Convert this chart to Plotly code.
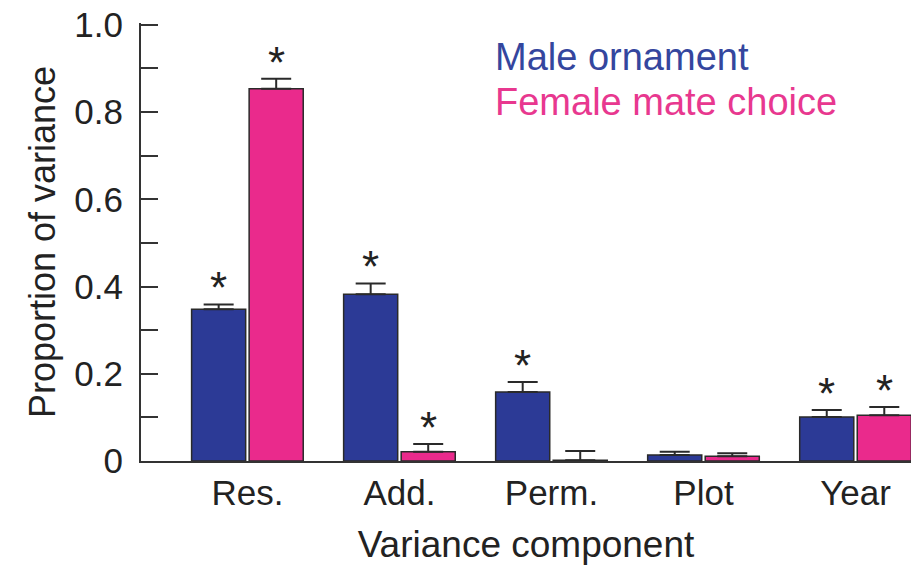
import plotly.graph_objects as go

categories = ["Res.", "Add.", "Perm.", "Plot", "Year"]
male_values = [0.348, 0.382, 0.158, 0.014, 0.101]
male_errors = [0.011, 0.025, 0.023, 0.007, 0.016]
female_values = [0.853, 0.021, 0.002, 0.011, 0.105]
female_errors = [0.023, 0.018, 0.021, 0.007, 0.019]
male_signif = [True, True, True, False, True]
female_signif = [True, True, False, False, True]
y_tick_vals = [0, 0.1, 0.2, 0.3, 0.4, 0.5, 0.6, 0.7, 0.8, 0.9, 1.0]
y_tick_text = ["0", "", "0.2", "", "0.4", "", "0.6", "", "0.8", "", "1.0"]

BLUE = "#2c3a96"
PINK = "#ea2a8c"
EDGE = "#2a2a2a"
FONT = "Liberation Sans, Arial, sans-serif"

fig = go.Figure()
fig.add_trace(go.Bar(
    x=categories, y=male_values, name="Male ornament",
    marker=dict(color=BLUE, line=dict(color=EDGE, width=1.5)),
    error_y=dict(type="data", array=male_errors, arrayminus=[0]*5, symmetric=False,
                 color=EDGE, thickness=2, width=15),
))
fig.add_trace(go.Bar(
    x=categories, y=female_values, name="Female mate choice",
    marker=dict(color=PINK, line=dict(color=EDGE, width=1.5)),
    error_y=dict(type="data", array=female_errors, arrayminus=[0]*5, symmetric=False,
                 color=EDGE, thickness=2, width=15),
))

offset = (1 - 0.243) / 4
for i in range(len(categories)):
    if male_signif[i]:
        fig.add_annotation(x=i - offset, y=male_values[i] + male_errors[i], text="*",
                           showarrow=False, yanchor="bottom", yshift=-10,
                           font=dict(size=44, color="#222", family=FONT))
    if female_signif[i]:
        fig.add_annotation(x=i + offset, y=female_values[i] + female_errors[i], text="*",
                           showarrow=False, yanchor="bottom", yshift=-10,
                           font=dict(size=44, color="#222", family=FONT))

fig.add_annotation(x=(493 - 141) / 770, y=1 - (58 - 24) / 437, xref="paper", yref="paper",
                   text="Male ornament", showarrow=False, xanchor="left", yanchor="middle",
                   font=dict(size=38, color="#34469e", family=FONT))
fig.add_annotation(x=(493 - 141) / 770, y=1 - (103 - 24) / 437, xref="paper", yref="paper",
                   text="Female mate choice", showarrow=False, xanchor="left", yanchor="middle",
                   font=dict(size=38, color="#e8388f", family=FONT))

fig.update_layout(
    width=911, height=566,
    margin=dict(l=141, r=0, t=23, b=105),
    plot_bgcolor="white", paper_bgcolor="white",
    barmode="group", bargap=0.243, bargroupgap=0.06,
    showlegend=False,
    font=dict(family=FONT, color="#222", size=30),
)
fig.update_xaxes(
    type="category", range=[-0.70, 4.365], automargin=False,
    showline=True, linecolor="#333", linewidth=2,
    ticks="", tickfont=dict(size=35), ticklabelstandoff=0,
    title=dict(text="Variance component", font=dict(size=37), standoff=20),
    showgrid=False, zeroline=False,
)
fig.update_yaxes(
    range=[0, 1.004], tickvals=y_tick_vals, ticktext=y_tick_text, automargin=False,
    ticklabeloverflow="allow",
    ticks="inside", ticklen=17, tickwidth=2, tickcolor="#333",
    showline=True, linecolor="#333", linewidth=2,
    tickfont=dict(size=35), ticklabelstandoff=9,
    title=dict(text="Proportion of variance", font=dict(size=36), standoff=8),
    showgrid=False, zeroline=False,
)

# remove the page's default body margin so the figure fills the window exactly
fig.write_html("out.html", config={"displayModeBar": False},
               post_script="document.body.style.margin='0';")
